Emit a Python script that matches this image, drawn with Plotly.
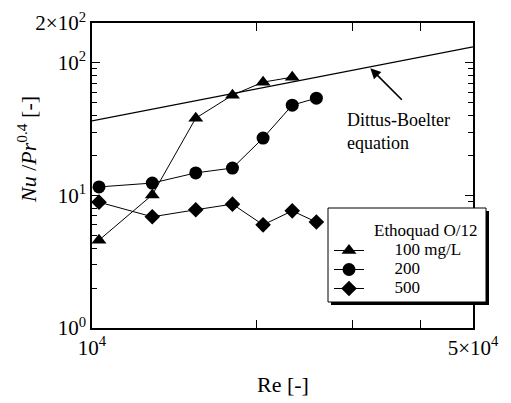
import plotly.graph_objects as go

# ---- data ----
re_100 = [1.03e4, 1.29e4, 1.55e4, 1.81e4, 2.06e4, 2.33e4]
nu_100 = [4.6, 10.1, 38.3, 57.1, 71.6, 78.0]

re_200 = [1.03e4, 1.29e4, 1.55e4, 1.81e4, 2.06e4, 2.33e4, 2.58e4]
nu_200 = [11.6, 12.4, 14.8, 16.1, 27.1, 48.0, 54.2]

re_500 = [1.03e4, 1.29e4, 1.55e4, 1.81e4, 2.06e4, 2.33e4, 2.58e4]
nu_500 = [8.9, 6.9, 7.8, 8.6, 6.0, 7.65, 6.3]

re_db = [1e4, 5e4]
nu_db = [36.5, 132]

series_names = ["100 mg/L", "200", "500"]
legend_title = "Ethoquad O/12"

y_tickvals = [1, 10, 100, 200]
y_ticktext = ["10<sup>0</sup>", "10<sup>1</sup>", "10<sup>2</sup>", "2×10<sup>2</sup>"]
y_minor = [2, 3, 4, 5, 6, 7, 8, 9, 20, 30, 40, 50, 60, 70, 80, 90]
x_tickvals = [1e4, 5e4]
x_ticktext = ["10<sup>4</sup>", "5×10<sup>4</sup>"]
x_minor = [2e4, 3e4, 4e4]

FONT = "Liberation Serif, Times New Roman, serif"
NB = "\u00a0"

# plot-area geometry in pixels (for paper-coordinate helpers)
PL, PR, PT, PB = 92, 473, 23, 328


def px(x):
    return (x - PL) / (PR - PL)


def py(y):
    return (PB - y) / (PB - PT)


def span(t, size=17):
    return f'<span style="font-size:{size}px">{t}</span>'


fig = go.Figure()

fig.add_trace(go.Scatter(x=re_db, y=nu_db, mode="lines",
                         line=dict(color="black", width=1.2), showlegend=False))

styles = [("triangle-up", 13), ("circle", 13), ("diamond", 12)]
for (rx, ny), name, (sym, sz) in zip([(re_100, nu_100), (re_200, nu_200), (re_500, nu_500)],
                                     series_names, styles):
    fig.add_trace(go.Scatter(
        x=rx, y=ny, mode="lines+markers", name=span(NB * 6 + name),
        line=dict(color="black", width=1),
        marker=dict(symbol=sym, size=sz, color="black"),
    ))

axis_common = dict(
    type="log", showgrid=False, zeroline=False,
    showline=True, linecolor="black", linewidth=1.5, mirror="allticks",
    ticks="inside", ticklen=8, tickcolor="black", tickwidth=1,
    tickfont=dict(family=FONT, size=21, color="black"),
)

fig.update_xaxes(**axis_common, range=[4, 4.69897],
                 tickmode="array", tickvals=x_tickvals, ticktext=x_ticktext,
                 minor=dict(tickmode="array", tickvals=x_minor, ticks="inside",
                            ticklen=8, tickcolor="black", tickwidth=1, showgrid=False))
fig.update_yaxes(**axis_common, range=[0, 2.30103],
                 tickmode="array", tickvals=y_tickvals, ticktext=y_ticktext,
                 minor=dict(tickmode="array", tickvals=y_minor, ticks="inside",
                            ticklen=5, tickcolor="black", tickwidth=1, showgrid=False))

# legend shadow and frame
fig.add_shape(type="rect", xref="paper", yref="paper",
              x0=px(331), x1=px(489), y0=py(305), y1=py(211),
              fillcolor="black", line=dict(width=0), layer="above")
fig.add_shape(type="rect", xref="paper", yref="paper",
              x0=px(328), x1=px(486), y0=py(302), y1=py(208),
              fillcolor="white", line=dict(width=1, color="black"), layer="above")

fig.update_layout(
    width=511, height=403,
    margin=dict(l=PL, r=511 - PR, t=PT, b=403 - PB, autoexpand=False),
    paper_bgcolor="white", plot_bgcolor="white",
    font=dict(family=FONT, color="black"),
    legend=dict(
        x=px(329), y=py(236), xanchor="left", yanchor="top",
        bgcolor="rgba(0,0,0,0)", borderwidth=0,
        font=dict(family=FONT, size=12, color="black"),
    ),
    annotations=[
        dict(text="<i>Nu</i> /<i>Pr</i><sup>0.4</sup> [-]", textangle=-90,
             xref="paper", yref="paper", x=px(27), y=py(150),
             xanchor="center", yanchor="middle", showarrow=False,
             font=dict(family=FONT, size=22, color="black")),
        dict(text="Re [-]", xref="paper", yref="paper", x=0.5, y=py(385),
             xanchor="center", yanchor="middle", showarrow=False,
             font=dict(family=FONT, size=22, color="black")),
        dict(text="Dittus-Boelter", xref="x", yref="y", x=4.4647, y=1.5685,
             xanchor="left", yanchor="middle", showarrow=False,
             font=dict(family=FONT, size=18, color="black")),
        dict(text="equation", xref="x", yref="y", x=4.4647, y=1.3953,
             xanchor="left", yanchor="middle", showarrow=False,
             font=dict(family=FONT, size=18, color="black")),
        dict(text=legend_title, xref="paper", yref="paper",
             x=px(372), y=py(230),
             xanchor="left", yanchor="middle", showarrow=False,
             font=dict(family=FONT, size=17, color="black")),
        dict(text="", xref="x", yref="y", x=4.5106, y=1.960, ax=33, ay=33,
             showarrow=True, arrowhead=2, arrowsize=1.3, arrowwidth=1.6,
             arrowcolor="black", standoff=0),
    ],
)

fig.write_html("out.html")
